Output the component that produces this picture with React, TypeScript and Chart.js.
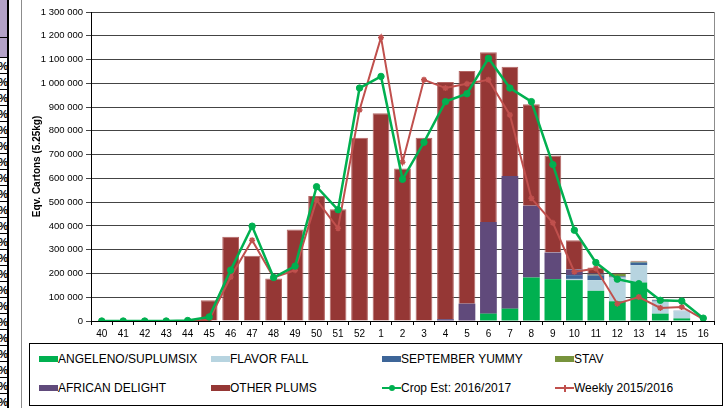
import React, { useEffect, useRef } from 'react';
import { Chart, registerables } from 'chart.js';
Chart.register(...registerables);

const weeks = ['40','41','42','43','44','45','46','47','48','49','50','51','52','1','2','3','4','5','6','7','8','9','10','11','12','13','14','15','16'];
const angeleno =       [0,0,0,0,0,0,0,0,0,0,0,0,0,0,0,0,0,0,31000,52000,183000,176000,172000,127000,83000,162000,31000,11000,0];
const flavorFall =     [0,0,0,0,0,0,0,0,0,0,0,0,0,0,0,0,0,0,0,0,0,0,5000,45000,100000,73000,51000,30000,0];
const septemberYummy = [0,0,0,0,0,0,0,0,0,0,0,0,0,0,0,0,0,0,0,0,0,0,16000,20000,5000,11000,5000,2000,0];
const stav =           [0,0,0,0,0,0,0,0,0,0,0,0,0,0,0,0,0,0,0,0,0,0,0,3000,10000,3000,0,0,0];
const africanDelight = [0,0,0,0,0,0,0,0,0,0,0,0,0,0,0,0,8000,73000,386000,558000,302000,112000,24000,5000,0,0,0,0,0];
const otherPlums =     [0,0,0,0,0,87000,354000,274000,179000,385000,526000,470000,771000,874000,642000,771000,997000,979000,714000,460000,427000,408000,123000,25000,2000,5000,3000,0,0];
const cropEst =        [0,0,0,0,2000,17000,214000,399000,183000,231000,565000,468000,980000,1029000,596000,752000,923000,956000,1105000,980000,923000,658000,382000,246000,176000,157000,87000,84000,12000];
const weekly =         [0,0,0,0,0,5000,185000,340000,183000,214000,509000,390000,888000,1193000,668000,1015000,980000,998000,1015000,867000,516000,413000,207000,221000,73000,101000,55000,59000,8000];

const C_ANG = '#00B050';
const C_FF = '#B7D4E0';
const C_SY = '#3D6598';
const C_STAV = '#77933C';
const C_AD = '#604A7B';
const C_OTHER = '#953735';
const C_CROP = '#00B050';
const C_WEEKLY = '#C0504D';

const FONT = '"Liberation Sans", Arial, sans-serif';

const fmt = (v: number) => String(v).replace(/\B(?=(\d{3})+(?!\d))/g, ' ');

const frame = {
  id: 'frame',
  beforeDatasetsDraw(chart: any) {
    const { ctx, chartArea } = chart;
    ctx.save();
    ctx.strokeStyle = '#8c8c8c';
    ctx.lineWidth = 1;
    ctx.beginPath();
    const x = Math.round(chartArea.right) + 0.5;
    ctx.moveTo(x, chartArea.top);
    ctx.lineTo(x, chartArea.bottom);
    ctx.stroke();
    ctx.restore();
  },
};

function ChartCanvas() {
  const ref = useRef<HTMLCanvasElement | null>(null);
  useEffect(() => {
    if (!ref.current) return;
    const barBase = { categoryPercentage: 1, barPercentage: 0.78, stack: 'bars', order: 2, borderWidth: 0 };
    const chart = new Chart(ref.current, {
      type: 'bar',
      data: {
        labels: weeks,
        datasets: [
          { ...barBase, label: 'ANGELENO/SUPLUMSIX', data: angeleno, backgroundColor: C_ANG },
          { ...barBase, label: 'FLAVOR FALL', data: flavorFall, backgroundColor: C_FF },
          { ...barBase, label: 'SEPTEMBER YUMMY', data: septemberYummy, backgroundColor: C_SY },
          { ...barBase, label: 'STAV', data: stav, backgroundColor: C_STAV },
          { ...barBase, label: 'AFRICAN DELIGHT', data: africanDelight, backgroundColor: C_AD },
          { ...barBase, label: 'OTHER PLUMS', data: otherPlums, backgroundColor: C_OTHER, borderWidth: 1, borderColor: '#B46664' },
          {
            type: 'line', label: 'Crop Est: 2016/2017', data: cropEst, stack: 'crop', order: 0,
            borderColor: C_CROP, backgroundColor: C_CROP, borderWidth: 2.5,
            pointStyle: 'circle', pointRadius: 3.2, pointBorderWidth: 1, tension: 0,
          } as any,
          {
            type: 'line', label: 'Weekly 2015/2016', data: weekly, stack: 'weekly', order: 1,
            borderColor: C_WEEKLY, backgroundColor: C_WEEKLY, borderWidth: 2,
            pointStyle: 'star', pointRadius: 3, pointBorderWidth: 1.5, tension: 0,
          } as any,
        ],
      },
      options: {
        animation: false,
        responsive: false,
        maintainAspectRatio: false,
        devicePixelRatio: 1,
        layout: { padding: { top: 12, right: 8, left: 0, bottom: 0 } },
        plugins: { legend: { display: false }, tooltip: { enabled: false } },
        scales: {
          x: {
            stacked: true,
            grid: { display: true, drawOnChartArea: false, offset: true, tickLength: 4, color: '#000' },
            border: { color: '#000', width: 1 },
            ticks: { font: { family: FONT, size: 10 }, color: '#000', padding: 3, maxRotation: 0, autoSkip: false },
            afterFit: (s: any) => { s.height = 21; },
          },
          y: {
            stacked: true,
            min: 0,
            max: 1300000,
            grid: { color: '#444', tickLength: 5, lineWidth: 1 },
            border: { color: '#000', width: 1 },
            ticks: { stepSize: 100000, callback: (v: any) => fmt(Number(v)), font: { family: FONT, size: 9.5 }, color: '#000', padding: 3 },
            title: { display: true, text: 'Eqv. Cartons (5.25kg)', font: { family: FONT, size: 10, weight: 'bold' }, color: '#000', padding: { top: 9, bottom: 0 } },
            afterFit: (s: any) => { s.width = 69; },
          },
        },
      } as any,
      plugins: [frame],
    });
    return () => chart.destroy();
  }, []);
  return <canvas ref={ref} width={700} height={342} style={{ position: 'absolute', left: 22, top: 0, width: 700, height: 342 }} />;
}

const legendItems = [
  { label: 'ANGELENO/SUPLUMSIX', color: C_ANG, kind: 'box', x: 39, row: 0 },
  { label: 'FLAVOR FALL', color: C_FF, kind: 'box', x: 211, row: 0 },
  { label: 'SEPTEMBER YUMMY', color: C_SY, kind: 'box', x: 382, row: 0 },
  { label: 'STAV', color: C_STAV, kind: 'box', x: 555, row: 0 },
  { label: 'AFRICAN DELIGHT', color: C_AD, kind: 'box', x: 39, row: 1 },
  { label: 'OTHER PLUMS', color: C_OTHER, kind: 'box', x: 211, row: 1 },
  { label: 'Crop Est: 2016/2017', color: C_CROP, kind: 'circle', x: 382, row: 1 },
  { label: 'Weekly 2015/2016', color: C_WEEKLY, kind: 'plus', x: 555, row: 1 },
];
const rowY = [359, 388];

function Swatch({ kind, color }: { kind: string; color: string }) {
  if (kind === 'box') return <div style={{ width: 19, height: 6, background: color }} />;
  return (
    <div style={{ position: 'relative', width: 19, height: 8 }}>
      <div style={{ position: 'absolute', left: 0, top: 3, width: 19, height: 2, background: color }} />
      {kind === 'circle' ? (
        <div style={{ position: 'absolute', left: 7, top: 1, width: 6, height: 6, borderRadius: 3, background: color }} />
      ) : (
        <div style={{ position: 'absolute', left: 8.5, top: 0.5, width: 2, height: 7, background: color }} />
      )}
    </div>
  );
}

function LeftTable() {
  const rows = [];
  for (let i = 0; i < 22; i++) {
    rows.push(
      <div key={i} style={{ position: 'absolute', left: 0, top: 58 + i * 16, width: 7, height: 16, borderBottom: '1px solid #000', boxSizing: 'border-box', overflow: 'hidden' }}>
        <span style={{ position: 'absolute', right: -1, top: 1, fontFamily: FONT, fontSize: 11, fontWeight: 'bold', color: '#000', lineHeight: '14px' }}>%</span>
      </div>
    );
  }
  return (
    <>
      <div style={{ position: 'absolute', left: 0, top: 0, width: 8, height: 38, background: '#B3A2C7', borderBottom: '1px solid #000', boxSizing: 'border-box' }} />
      <div style={{ position: 'absolute', left: 0, top: 38, width: 8, height: 20, background: '#B3A2C7', borderBottom: '1px solid #000', boxSizing: 'border-box' }} />
      {rows}
      <div style={{ position: 'absolute', left: 7, top: 0, width: 2, height: 408, background: '#000' }} />
      <div style={{ position: 'absolute', left: 21, top: 0, width: 1, height: 408, background: '#8c8c8c' }} />
    </>
  );
}

export default function App() {
  return (
    <div style={{ position: 'fixed', left: 0, top: 0, width: 727, height: 408, background: '#fff', overflow: 'hidden' }}>
      <LeftTable />
      <ChartCanvas />
      <div style={{ position: 'absolute', left: 29, top: 343, width: 694, height: 63, border: '1px solid #000', boxSizing: 'border-box' }} />
      {legendItems.map((it) => (
        <div key={it.label} style={{ position: 'absolute', left: it.x, top: rowY[it.row] - 8, height: 16, display: 'flex', alignItems: 'center', whiteSpace: 'nowrap' }}>
          <Swatch kind={it.kind} color={it.color} />
          <span style={{ fontFamily: FONT, fontSize: 12, color: '#000', lineHeight: '16px' }}>{it.label}</span>
        </div>
      ))}
    </div>
  );
}
